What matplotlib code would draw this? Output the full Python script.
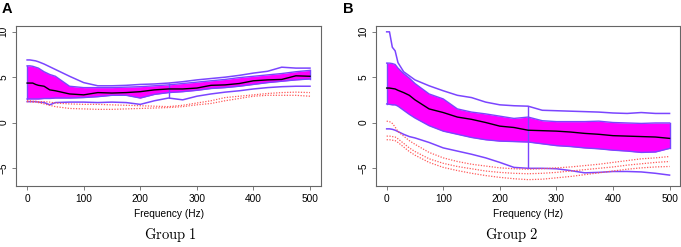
import matplotlib
matplotlib.use("Agg")
import matplotlib.pyplot as plt

plt.rcParams['font.family'] = ['Liberation Sans', 'DejaVu Sans']
plt.rcParams['mathtext.fontset'] = 'cm'

freqs = [0, 5, 10, 15, 20, 30, 40, 50, 75, 100, 125, 150, 175, 200, 225,
         250, 275, 300, 325, 350, 375, 400, 425, 450, 475, 500]

# Group 1
a_upper = [6.9, 6.9, 6.85, 6.8, 6.7, 6.45, 6.15, 5.85, 5.1, 4.4, 4.05, 4.05, 4.1,
           4.2, 4.25, 4.35, 4.5, 4.7, 4.85, 5.0, 5.2, 5.45, 5.65, 6.1, 6.0, 6.0]
a_q3 = [6.25, 6.25, 6.2, 6.1, 6.0, 5.6, 5.3, 5.1, 4.0, 3.85, 3.85, 3.85, 3.9,
        3.95, 4.05, 4.15, 4.3, 4.45, 4.6, 4.75, 4.95, 5.1, 5.25, 5.4, 5.6, 5.75]
a_med = [4.35, 4.35, 4.35, 4.2, 4.1, 4.0, 3.6, 3.5, 3.15, 3.05, 3.3, 3.25, 3.3,
         3.4, 3.6, 3.7, 3.7, 3.8, 4.1, 4.15, 4.3, 4.6, 4.7, 4.75, 5.15, 5.1]
a_q1 = [2.6, 2.6, 2.6, 2.6, 2.6, 2.65, 2.65, 2.7, 2.7, 2.75, 2.85, 3.0, 3.0,
        2.7, 3.1, 3.3, 3.4, 3.55, 3.75, 3.85, 4.0, 4.2, 4.4, 4.55, 4.7, 4.8]
a_lower = [2.3, 2.3, 2.3, 2.3, 2.25, 2.2, 1.95, 2.2, 2.25, 2.25, 2.2, 2.25, 2.2,
           2.0, 2.4, 2.7, 2.5, 2.9, 3.15, 3.35, 3.5, 3.7, 3.85, 3.95, 4.0, 4.0]
a_red = [
    [2.4, 2.4, 2.35, 2.35, 2.3, 2.3, 2.25, 2.15, 2.05, 2.0, 2.0, 1.95, 1.9,
     1.85, 1.8, 1.75, 1.9, 2.15, 2.4, 2.75, 2.9, 3.05, 3.2, 3.3, 3.35, 3.3],
    [2.3, 2.3, 2.25, 2.25, 2.2, 2.05, 1.9, 1.75, 1.55, 1.5, 1.45, 1.45, 1.5,
     1.55, 1.6, 1.65, 1.75, 1.95, 2.1, 2.4, 2.65, 2.9, 3.0, 3.0, 3.0, 2.9],
]

# Group 2
b_upper = [10.0, 10.0, 8.3, 7.9, 6.6, 5.6, 5.15, 4.7, 4.05, 3.5, 3.0, 2.75, 2.25,
           1.95, 1.85, 1.8, 1.35, 1.3, 1.25, 1.2, 1.15, 1.05, 1.0, 1.1, 1.0, 1.0]
b_q3 = [6.55, 6.55, 6.5, 6.4, 6.0, 5.4, 4.9, 4.3, 3.15, 2.6, 1.5, 1.15, 0.95,
        0.7, 0.45, 0.6, 0.2, 0.1, 0.1, 0.1, 0.15, 0.0, -0.05, -0.1, -0.05, -0.05]
b_med = [3.8, 3.8, 3.75, 3.7, 3.55, 3.3, 3.0, 2.5, 1.5, 1.1, 0.6, 0.35, 0.0,
         -0.4, -0.55, -0.85, -0.9, -0.95, -1.05, -1.2, -1.3, -1.45, -1.5, -1.55,
         -1.6, -1.75]
b_q1 = [2.05, 2.0, 1.95, 1.95, 1.8, 1.35, 0.9, 0.5, -0.35, -0.95, -1.3, -1.65,
        -1.9, -2.05, -2.1, -2.15, -2.35, -2.55, -2.65, -2.8, -2.9, -3.05, -3.15,
        -3.3, -3.25, -2.85]
b_lower = [-0.7, -0.7, -0.75, -0.85, -1.0, -1.3, -1.55, -1.7, -2.2, -2.8, -3.15,
           -3.5, -3.9, -4.4, -4.95, -5.05, -5.05, -5.1, -5.3, -5.55, -5.5, -5.4,
           -5.4, -5.45, -5.6, -5.8]
b_red = [
    [0.15, 0.1, -0.1, -0.5, -1.0, -1.5, -2.0, -2.4, -3.3, -3.9, -4.3, -4.6, -4.8,
     -5.0, -5.1, -5.15, -5.1, -5.0, -4.9, -4.75, -4.6, -4.4, -4.2, -4.0, -3.9, -3.75],
    [-1.5, -1.5, -1.55, -1.6, -1.8, -2.3, -2.8, -3.2, -4.0, -4.5, -4.85, -5.1,
     -5.35, -5.5, -5.6, -5.65, -5.6, -5.5, -5.35, -5.2, -5.05, -4.9, -4.7, -4.55,
     -4.4, -4.3],
    [-1.9, -1.9, -1.95, -2.0, -2.2, -2.7, -3.2, -3.6, -4.4, -4.95, -5.3, -5.6,
     -5.85, -6.05, -6.2, -6.3, -6.25, -6.1, -5.95, -5.75, -5.55, -5.35, -5.15,
     -5.0, -4.9, -4.85],
]

marker_freq = 250

blue = '#7B45FF'
magenta = '#FF00FF'
red = '#FF5A5A'


def draw_panel(ax, upper, q3, med, q1, lower, reds):
    idx = freqs.index(marker_freq)
    ax.fill_between(freqs, q1, q3, color=magenta, lw=0)
    ax.plot(freqs, q3, color=blue, lw=1.0)
    ax.plot(freqs, q1, color=blue, lw=1.0)
    ax.plot([freqs[0], freqs[0]], [q1[0], q3[0]], color=blue, lw=1.0)
    ax.plot([freqs[-1], freqs[-1]], [q1[-1], q3[-1]], color=blue, lw=1.0)
    ax.plot(freqs, upper, color=blue, lw=1.1)
    ax.plot(freqs, lower, color=blue, lw=1.1)
    ax.vlines(marker_freq, lower[idx], upper[idx], color=blue, lw=1.0)
    for r in reds:
        ax.plot(freqs, r, color=red, lw=0.9, ls=(0, (1, 1.2)))
    ax.plot(freqs, med, color='black', lw=1.0)

    ax.set_xlim(-19, 519)
    ax.set_ylim(-7, 10.65)
    ax.set_xticks([0, 100, 200, 300, 400, 500])
    ax.set_yticks([-5, 0, 5, 10])
    for s in ax.spines.values():
        s.set_color('#666666')
        s.set_linewidth(0.8)
    ax.tick_params(length=3, width=0.6, color='#666666', labelsize=7.3, pad=2.5)
    for lab in ax.get_yticklabels():
        lab.set_rotation(90)
        lab.set_va('center')
    ax.set_xlabel("Frequency (Hz)", fontsize=7.3, labelpad=4)


fig = plt.figure(figsize=(6.81, 2.47), dpi=100)
ax1 = fig.add_axes([0.024, 0.247, 0.447, 0.648])
ax2 = fig.add_axes([0.552, 0.247, 0.447, 0.648])

draw_panel(ax1, a_upper, a_q3, a_med, a_q1, a_lower, a_red)
draw_panel(ax2, b_upper, b_q3, b_med, b_q1, b_lower, b_red)

fig.text(0.003, 0.99, "A", fontsize=10.5, fontweight='bold', va='top', ha='left')
fig.text(0.504, 0.99, "B", fontsize=10.5, fontweight='bold', va='top', ha='left')
fig.text(0.25, 0.05, r'$\mathrm{Group\ 1}$', fontsize=10.5, ha='center', va='center')
fig.text(0.752, 0.05, r'$\mathrm{Group\ 2}$', fontsize=10.5, ha='center', va='center')

fig.savefig("out.png", dpi=100)
